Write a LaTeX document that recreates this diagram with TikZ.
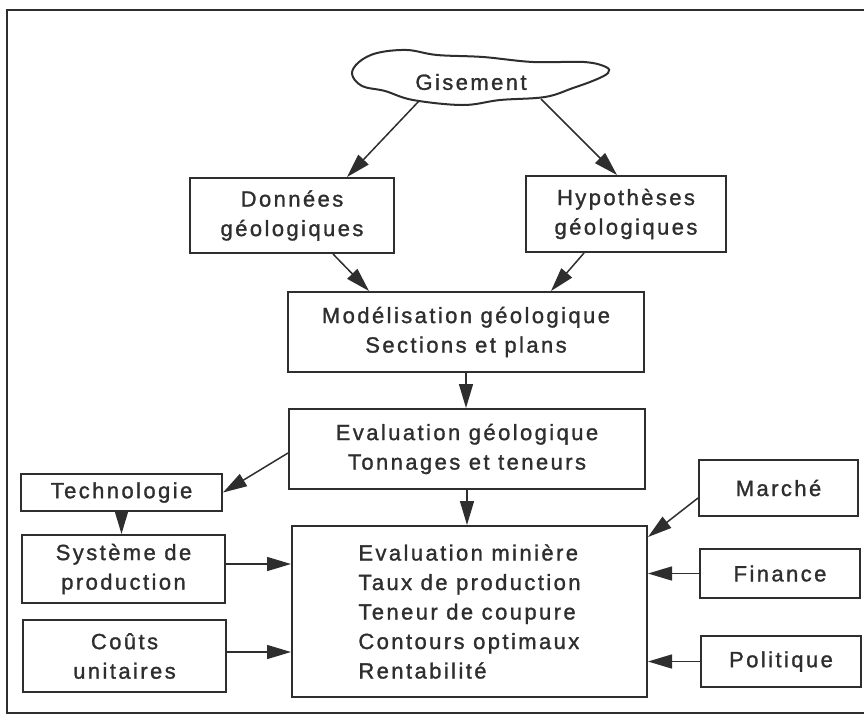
\documentclass[tikz,border=0pt]{standalone}
\usepackage{fontspec}
\setmainfont{Liberation Sans}[LetterSpace=11, FakeBold=1.3]
\usetikzlibrary{arrows.meta}
\definecolor{ink}{HTML}{2E2E2E}

\begin{document}
\begin{tikzpicture}[x=1pt,y=-1pt]
\tikzstyle{every node}=[font=\fontsize{22}{29.5}\selectfont, text=ink]
\tikzstyle{box}=[draw=ink, line width=2pt, align=center, inner sep=0pt]
\tikzstyle{arr}=[draw=ink, line width=1.5pt, -{Triangle[length=24pt,width=14pt]}]

% page size and the frame (open on the right)
\useasboundingbox (0,0) rectangle (864,716);
\draw [ink, line width=1.4pt] (870,10) -- (7,10) -- (7,713) -- (870,713);

% the deposit
\draw [ink, line width=2pt] plot[smooth cycle, tension=0.6] coordinates
  {(352,74) (359,62) (377,53) (407,50) (437,55) (483,57) (533,62) (584,62)
   (606,67) (608,73) (595,80) (573,88) (545,97) (500,100) (463,105) (413,100)
   (385,91) (362,86)};
\node (gis) at (471,82) {Gisement};
\coordinate (gisL) at (419,101);
\coordinate (gisR) at (541,99);

% boxes
\node [box, minimum width=204pt, minimum height=75pt] (don) at (292,215.5) {Données\\géologiques};
\node [box, minimum width=200pt, minimum height=76pt] (hyp) at (626,214) {Hypothèses\\géologiques};
\node [box, minimum width=356pt, minimum height=80pt] (mod) at (466,332) {Modélisation géologique\\Sections et plans};
\node [box, minimum width=356pt, minimum height=80pt] (evg) at (467,449) {Evaluation géologique\\Tonnages et teneurs};
\node [box, minimum width=201pt, minimum height=37pt] (tech) at (121.5,492.5) {Technologie};
\node [box, minimum width=203pt, minimum height=68pt] (sys) at (123.5,569) {Système de\\production};
\node [box, minimum width=203pt, minimum height=72pt] (cout) at (124.5,656) {Coûts\\unitaires};
\node [box, align=left, minimum width=355pt, minimum height=171pt] (evm) at (469.5,611.5)
  {Evaluation minière\\Taux de production\\Teneur de coupure\\Contours optimaux\\Rentabilité};
\node [box, minimum width=159pt, minimum height=56pt] (mar) at (778.5,488) {Marché};
\node [box, minimum width=160pt, minimum height=49pt] (fin) at (780,573.5) {Finance};
\node [box, minimum width=160pt, minimum height=51pt] (pol) at (781,661.5) {Politique};

% arrows
\draw [arr] (gisL) -- ([xshift=55pt]don.north);
\draw [arr] (gisR) -- ([xshift=-9pt]hyp.north);
\draw [arr] ([xshift=41pt]don.south) -- ([xshift=-97pt]mod.north);
\draw [arr] ([xshift=-42pt]hyp.south) -- ([xshift=85pt]mod.north);
\draw [arr] (mod.south) -- (mod.south |- evg.north);
\draw [arr] ([yshift=-4pt]evg.west) -- (tech.east);
\draw [arr] (evg.south) -- (evg.south |- evm.north);
\draw [arr] (tech.south) -- (tech.south |- sys.north);
\draw [arr] ([yshift=5pt]sys.east) -- ([yshift=5pt]sys.east -| evm.west);
\draw [arr] ([yshift=4pt]cout.east) -- ([yshift=4pt]cout.east -| evm.west);
\draw [arr] ([yshift=-10pt]mar.west) -- ([yshift=-12pt]evm.north east);
\draw [arr] (fin.west) -- (fin.west -| evm.east);
\draw [arr] (pol.west) -- (pol.west -| evm.east);

\end{tikzpicture}
\end{document}
